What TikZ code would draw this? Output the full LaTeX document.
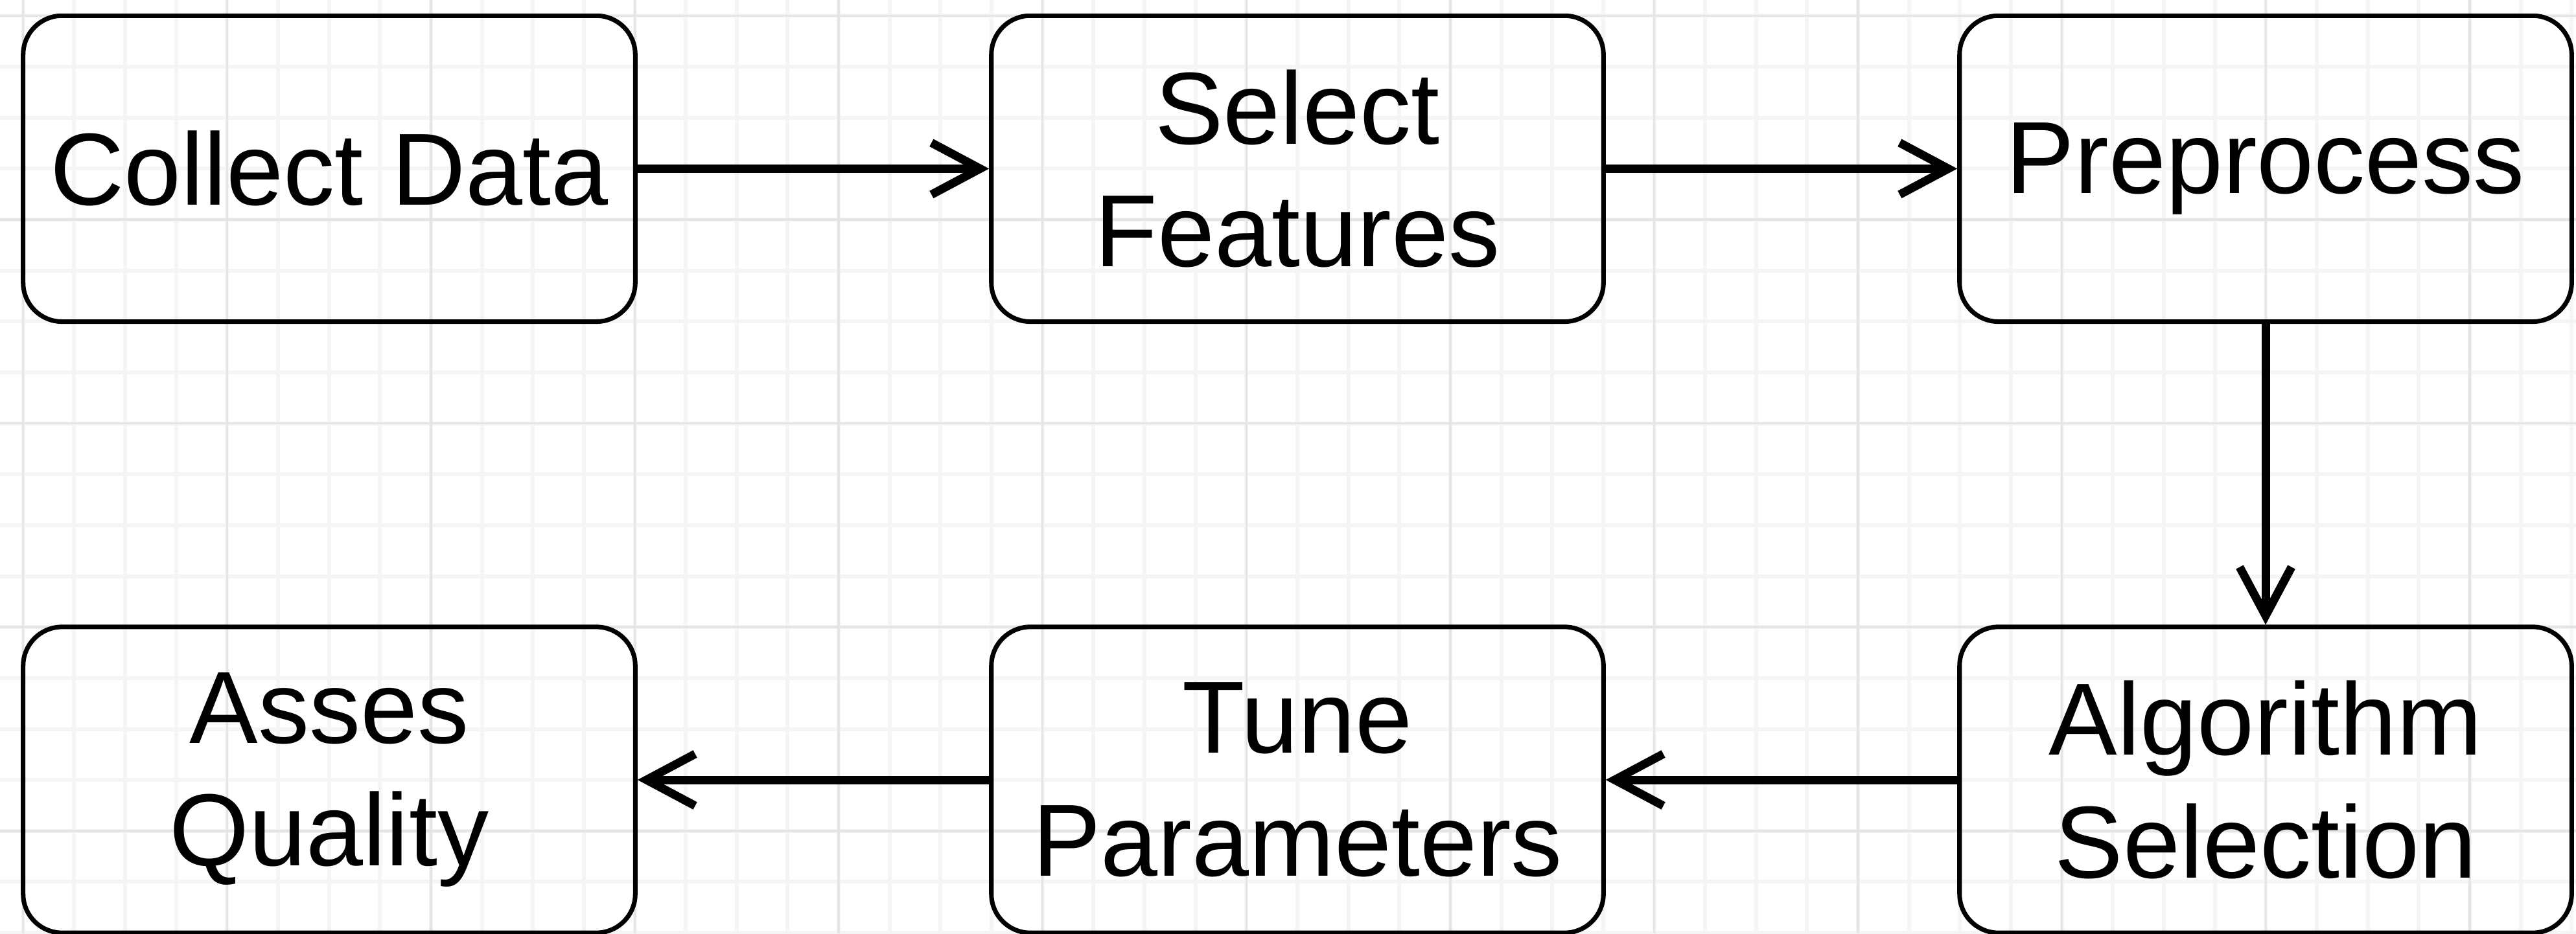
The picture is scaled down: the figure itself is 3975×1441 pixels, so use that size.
\documentclass[tikz,border=0pt]{standalone}
\usepackage{fontspec}
\setmainfont{Liberation Sans}
\usetikzlibrary{arrows.meta}
\tikzset{
  box/.style={draw=black, line width=2pt, rounded corners=0.6cm,
    minimum width=9.44cm, minimum height=4.72cm, align=center,
    inner sep=0pt, font=\fontsize{45}{54}\selectfont},
  flow/.style={line width=3.7pt, -{Straight Barb[length=0.75cm, width=0.8cm]}},
  minorgrid/.style={draw=black!4, line width=0.06cm},
  majorgrid/.style={draw=black!10, line width=0.035cm}
}
\begin{document}
\begin{tikzpicture}[x=0.01cm, y=-0.01cm]
\useasboundingbox (0,0) rectangle (3975,1441);
\fill[white] (0,0) rectangle (3975,1441);
% grid
\foreach \i in {0,...,50} {
  \draw[minorgrid] ({35.7+\i*78.65},0) -- ({35.7+\i*78.65},1441);
}
\foreach \i in {0,...,18} {
  \draw[minorgrid] (0,{24.4+\i*78.65}) -- (3975,{24.4+\i*78.65});
}
\foreach \i in {0,...,12} {
  \draw[majorgrid] ({35.7+\i*314.6},0) -- ({35.7+\i*314.6},1441);
}
\foreach \i in {0,...,4} {
  \draw[majorgrid] (0,{24.4+\i*314.6}) -- (3975,{24.4+\i*314.6});
}
% boxes
\node[box] (collect) at (508,260.4) {Collect Data};
\node[box] (select) at (2002,260.4) {Select\\Features};
\node[box] (prep) at (3496,260.4) {Preprocess};
\node[box] (asses) at (508,1204) {Asses\\Quality};
\node[box] (tune) at (2002,1204) {Tune\\Parameters};
\node[box] (algo) at (3496,1204) {Algorithm\\Selection};
% connectors
\draw[flow] (collect) -- (select);
\draw[flow] (select) -- (prep);
\draw[flow] (prep) -- (algo);
\draw[flow] (algo) -- (tune);
\draw[flow] (tune) -- (asses);
\end{tikzpicture}
\end{document}
